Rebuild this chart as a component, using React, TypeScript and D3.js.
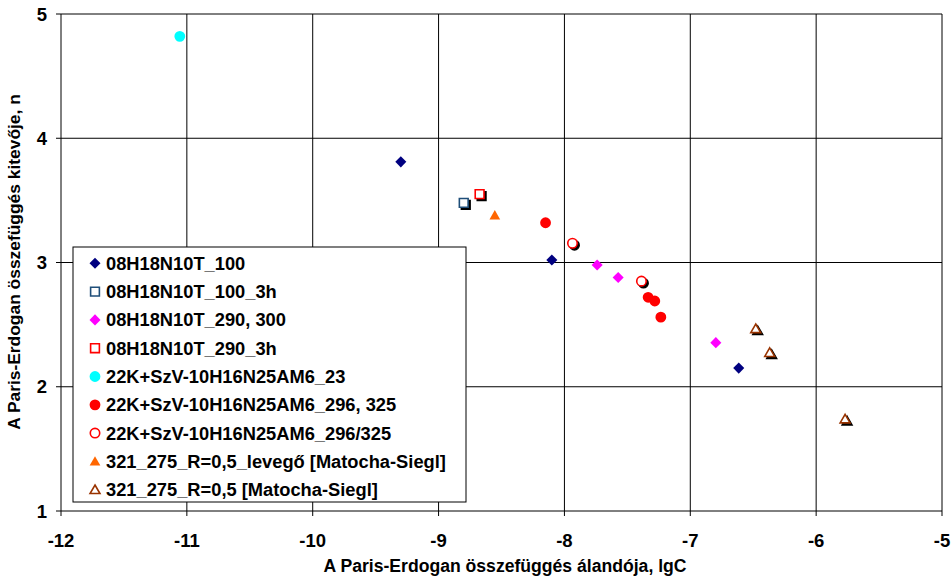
import React, { useEffect } from "react";
import * as d3 from "d3";

// lgC (x) and n (y) values per series
const s1x = [-9.3, -8.1, -6.615];
const s1y = [3.81, 3.02, 2.15];
const s2x = [-8.8];
const s2y = [3.48];
const s3x = [-7.74, -7.573, -6.797];
const s3y = [2.98, 2.88, 2.355];
const s4x = [-8.674];
const s4y = [3.55];
const s5x = [-11.056];
const s5y = [4.82];
const s6x = [-8.15, -7.335, -7.282, -7.234];
const s6y = [3.32, 2.72, 2.69, 2.56];
const s7x = [-7.936, -7.388];
const s7y = [3.155, 2.85];
const s8x = [-8.553];
const s8y = [3.38];
const s9x = [-6.48, -6.369, -5.77];
const s9y = [2.467, 2.275, 1.74];

const seriesNames = [
  "08H18N10T_100",
  "08H18N10T_100_3h",
  "08H18N10T_290, 300",
  "08H18N10T_290_3h",
  "22K+SzV-10H16N25AM6_23",
  "22K+SzV-10H16N25AM6_296, 325",
  "22K+SzV-10H16N25AM6_296/325",
  "321_275_R=0,5_levegő [Matocha-Siegl]",
  "321_275_R=0,5 [Matocha-Siegl]",
];

const xTicks = [-12, -11, -10, -9, -8, -7, -6, -5];
const yTicks = [1, 2, 3, 4, 5];

type Shape = "diamond" | "square" | "circle" | "triangle";
const styles: { shape: Shape; color: string; filled: boolean }[] = [
  { shape: "diamond", color: "#000080", filled: true },
  { shape: "square", color: "#1F4E79", filled: false },
  { shape: "diamond", color: "#FF00FF", filled: true },
  { shape: "square", color: "#FF0000", filled: false },
  { shape: "circle", color: "#00FFFF", filled: true },
  { shape: "circle", color: "#FF0000", filled: true },
  { shape: "circle", color: "#FF0000", filled: false },
  { shape: "triangle", color: "#FF6600", filled: true },
  { shape: "triangle", color: "#993300", filled: false },
];

const seriesX = [s1x, s2x, s3x, s4x, s5x, s6x, s7x, s8x, s9x];
const seriesY = [s1y, s2y, s3y, s4y, s5y, s6y, s7y, s8y, s9y];

const width = 952;
const height = 580;
const margin = { top: 14, right: 10, bottom: 69, left: 61 };

const x = d3.scaleLinear().domain([-12, -5]).range([margin.left, width - margin.right]);
const y = d3.scaleLinear().domain([1, 5]).range([height - margin.bottom, margin.top]);

const symPath = (shape: Shape, filled: boolean) => {
  if (shape === "diamond") return d3.symbol(d3.symbolDiamond2, 78)();
  if (shape === "square") return d3.symbol(d3.symbolSquare2, 98)();
  if (shape === "circle") return d3.symbol(d3.symbolCircle, filled ? 92 : 70)();
  return d3.symbol(d3.symbolTriangle2, filled ? 82 : 70)();
};

const Marker = ({ cx, cy, i, shadow }: { cx: number; cy: number; i: number; shadow: boolean }) => {
  const st = styles[i];
  const p = symPath(st.shape, st.filled) as string;
  const dy = st.shape === "triangle" ? 1 : 0;
  return (
    <g>
      {shadow && !st.filled && (
        <path d={p} transform={`translate(${cx + 2},${cy + 2 + dy})`} fill="#000" stroke="#000" strokeWidth={1.5} />
      )}
      <path
        d={p}
        transform={`translate(${cx},${cy + dy})`}
        fill={st.filled ? st.color : "#fff"}
        stroke={st.color}
        strokeWidth={st.filled ? 0 : 1.6}
      />
    </g>
  );
};

export default function App() {
  useEffect(() => {
    document.body.style.margin = "0";
    document.body.style.overflow = "hidden";
  }, []);
  const font = "Arial, 'Liberation Sans', sans-serif";
  const legend = { x: 73, y: 247, w: 393, h: 255, row0: 263.3, step: 28.3 };
  return (
    <svg
      width={width}
      height={height}
      style={{ display: "block", position: "absolute", left: 0, top: 0 }}
      fontFamily={font}
    >
      <rect x={0} y={0} width={width} height={height} fill="#fff" />
      {xTicks.map((t) => (
        <line key={"gx" + t} x1={x(t)} x2={x(t)} y1={y(1)} y2={y(5)} stroke="#000" strokeWidth={1} />
      ))}
      {yTicks.map((t) => (
        <line key={"gy" + t} x1={x(-12)} x2={x(-5)} y1={y(t)} y2={y(t)} stroke="#000" strokeWidth={1} />
      ))}
      {xTicks.map((t) => (
        <g key={"tx" + t}>
          <line x1={x(t)} x2={x(t)} y1={y(1)} y2={y(1) + 5} stroke="#000" />
          <text x={x(t)} y={y(1) + 36} textAnchor="middle" fontSize={18.5} fontWeight="bold">
            {t}
          </text>
        </g>
      ))}
      {yTicks.map((t) => (
        <g key={"ty" + t}>
          <line x1={x(-12) - 5} x2={x(-12)} y1={y(t)} y2={y(t)} stroke="#000" />
          <text x={47} y={y(t) + 6.5} textAnchor="end" fontSize={18.5} fontWeight="bold">
            {t}
          </text>
        </g>
      ))}
      <text x={505} y={572} textAnchor="middle" fontSize={17.6} fontWeight="bold">
        A Paris-Erdogan összefüggés álandója, lgC
      </text>
      <text
        transform={`translate(20,262) rotate(-90)`}
        textAnchor="middle"
        fontSize={17.4}
        fontWeight="bold"
      >
        A Paris-Erdogan összefüggés kitevője, n
      </text>
      {seriesX.map((xs, i) =>
        xs.map((v, j) => <Marker key={i + "-" + j} cx={x(v)} cy={y(seriesY[i][j])} i={i} shadow={true} />)
      )}
      <rect x={legend.x} y={legend.y} width={legend.w} height={legend.h} fill="#fff" stroke="#000" strokeWidth={1} />
      {seriesNames.map((name, i) => {
        const cy = legend.row0 + i * legend.step;
        return (
          <g key={"lg" + i}>
            <Marker cx={95} cy={cy} i={i} shadow={false} />
            <text x={106} y={cy + 6.5} fontSize={18.3} fontWeight="bold">
              {name}
            </text>
          </g>
        );
      })}
    </svg>
  );
}
